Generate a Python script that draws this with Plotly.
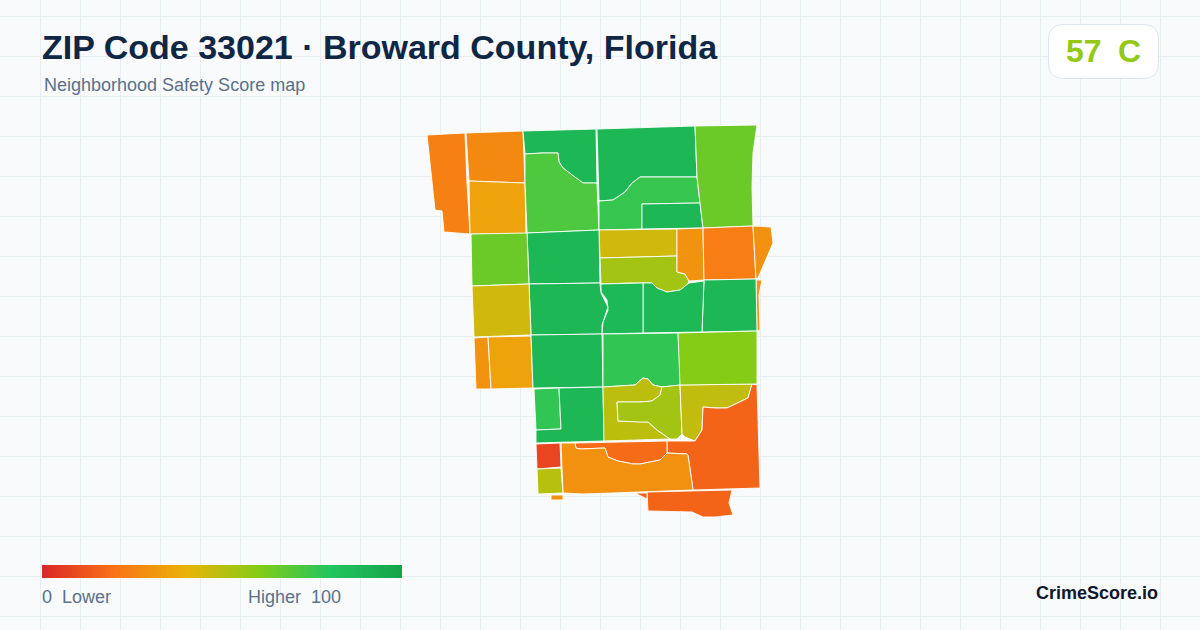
import plotly.graph_objects as go
from plotly.colors import sample_colorscale

W, H = 1200, 630
TITLE = "ZIP Code 33021 · Broward County, Florida"
SUBTITLE = "Neighborhood Safety Score map"
OVERALL_SCORE = 57
OVERALL_GRADE = "C"
BRAND = "CrimeScore.io"

SCALE_STOPS = [0, 20, 40, 60, 80, 100]
SCALE_COLORS = ["#dc2626", "#f97316", "#eab308", "#84cc16", "#22c55e", "#16a34a"]

TRACT_SCORES = [
    24, 27, 35, 88, 71, 88, 76, 88, 65, 45,
    54, 30, 23, 29, 30, 88, 87, 87, 88, 88,
    65, 45, 30, 35, 88, 77, 88, 77, 49, 54,
    48, 16, 18, 29, 8, 50, 29, 16, 16, 60,
]
TRACT_OUTLINES = [
    [(427,135),(465,133),(467,183),(470,234),(444,232),(442,211),(435,210)],
    [(466,133),(523,131),(525,183),(469,181)],
    [(469,181),(525,183),(526,234),(470,234)],
    [(523,131),(596,129),(597,183),(583,183),(577,179),(563,168),(559,162),(558,153),(542,153),(525,154)],
    [(525,154),(542,153),(558,153),(559,162),(563,168),(577,179),(583,183),(597,183),(599,230),(527,233),(525,183)],
    [(597,129),(695,126),(697,177),(658,177),(640,177),(632,183),(625,192),(613,200),(599,201)],
    [(599,201),(613,200),(625,192),(632,183),(640,177),(658,177),(697,177),(700,203),(642,204),(642,229),(599,230)],
    [(642,204),(700,203),(703,228),(642,229)],
    [(695,126),(757,125),(753,153),(752,187),(753,226),(703,228),(700,203),(697,177)],
    [(599,230),(677,229),(677,256),(600,258)],
    [(600,258),(677,256),(677,272),(685,274),(689,281),(687,286),(680,290),(667,292),(657,288),(652,283),(630,283),(601,284)],
    [(677,229),(703,228),(704,280),(689,281),(685,274),(677,272)],
    [(703,228),(753,226),(756,279),(704,280)],
    [(753,226),(771,227),(773,243),(758,278),(756,279)],
    [(756,280),(762,280),(759,295),(760,330),(757,331)],
    [(704,280),(756,279),(757,331),(702,332),(703,303)],
    [(643,283),(652,283),(657,288),(667,292),(680,290),(689,283),(704,281),(703,303),(702,332),(643,333)],
    [(601,284),(643,283),(643,333),(602,334),(603,322),(608,310),(607,300),(601,292)],
    [(527,233),(599,230),(600,283),(529,284)],
    [(529,284),(600,283),(601,293),(608,307),(602,325),(602,334),(531,335)],
    [(471,234),(527,233),(529,284),(472,286)],
    [(472,286),(529,284),(531,335),(474,337)],
    [(474,338),(488,337),(491,389),(476,389)],
    [(488,337),(531,336),(533,388),(491,389)],
    [(531,335),(602,334),(603,387),(533,388)],
    [(534,389),(559,388),(561,429),(536,430)],
    [(559,388),(603,387),(604,441),(536,443),(536,430),(561,429)],
    [(603,334),(678,333),(681,385),(662,387),(653,385),(648,379),(643,378),(635,385),(603,387)],
    [(603,387),(635,385),(643,378),(648,379),(653,385),(662,387),(660,395),(652,401),(640,402),(617,402),(618,421),(648,422),(657,430),(670,439),(604,441)],
    [(662,387),(680,385),(682,434),(677,439),(670,439),(657,430),(648,422),(640,422),(618,421),(617,402),(640,402),(652,401),(660,395)],
    [(680,385),(752,384),(748,398),(740,402),(727,408),(715,408),(703,407),(702,430),(695,441),(685,437),(682,434)],
    [(752,384),(757,385),(760,488),(693,490),(688,455),(687,454),(667,453),(667,441),(695,441),(702,430),(703,407),(715,408),(727,408),(740,402),(748,398)],
    [(575,443),(667,441),(667,453),(660,460),(640,464),(633,464),(618,461),(608,457),(605,448),(580,449),(576,448)],
    [(561,443),(575,443),(576,448),(580,449),(605,448),(608,457),(618,461),(633,464),(640,464),(660,460),(667,453),(687,454),(688,455),(693,490),(612,493),(583,494),(563,493)],
    [(536,444),(560,443),(561,467),(537,469)],
    [(537,469),(561,468),(563,493),(538,494)],
    [(551,495),(563,495),(563,500),(551,500)],
    [(647,492),(732,490),(729,503),(733,515),(715,517),(703,517),(692,512),(648,511)],
    [(635,493),(647,493),(647,499)],
    [(678,333),(757,331),(757,384),(680,385)],
]

FONT = "Liberation Sans, Arial, sans-serif"
MUTED = "#5b7089"
GRID = "#e7eef2"
BG = "#f8fafc"

scale = [[s / 100, c] for s, c in zip(SCALE_STOPS, SCALE_COLORS)]


def score_color(v):
    return sample_colorscale(scale, v / 100, colortype="rgb")[0]


def py(y):
    return 1 - y / H


HEADER = 96
fig = go.Figure()

for score, outline in zip(TRACT_SCORES, TRACT_OUTLINES):
    xs = [p[0] for p in outline] + [outline[0][0]]
    ys = [p[1] for p in outline] + [outline[0][1]]
    fig.add_trace(go.Scatter(
        x=xs, y=ys, mode="lines", fill="toself",
        fillcolor=score_color(score),
        line=dict(color="#ffffff", width=0.9),
        hoverinfo="text", text=f"Safety score {score}", showlegend=False,
    ))

fig.add_trace(go.Heatmap(
    x=SCALE_STOPS, y=[0, 1], z=[SCALE_STOPS, SCALE_STOPS],
    colorscale=scale, zmin=0, zmax=100, zsmooth="best",
    showscale=False, hoverinfo="skip", xaxis="x2", yaxis="y2",
))


def label(x, y, text, size, color, xanchor="left", bold=False):
    fig.add_annotation(
        x=x / W, y=py(y), xref="paper", yref="paper", text=f"<b>{text}</b>" if bold else text,
        showarrow=False, xanchor=xanchor, yanchor="middle", xshift=0, yshift=0,
        font=dict(family=FONT, size=size, color=color), borderpad=0, borderwidth=0,
    )


label(42, 47, TITLE, 34, "#0f2744", bold=True)
label(44, 85, SUBTITLE, 18, MUTED)
label(1066, 51, str(OVERALL_SCORE), 32, score_color(OVERALL_SCORE), bold=True)
label(1118, 51, OVERALL_GRADE, 32, score_color(OVERALL_SCORE), bold=True)
label(42, 597, f"{SCALE_STOPS[0]}\u00a0\u00a0Lower", 18, MUTED)
label(341, 597, f"Higher\u00a0\u00a0{SCALE_STOPS[-1]}", 18, MUTED, xanchor="right")
label(1158, 593, BRAND, 18, "#0f172a", xanchor="right", bold=True)

# rounded score badge
x0, x1, y0, y1, r = 1048.5, 1158.5, 24.5, 78.5, 15
badge = (
    f"M {x0+r} {y0} L {x1-r} {y0} Q {x1} {y0} {x1} {y0+r} L {x1} {y1-r} Q {x1} {y1} {x1-r} {y1} "
    f"L {x0+r} {y1} Q {x0} {y1} {x0} {y1-r} L {x0} {y0+r} Q {x0} {y0} {x0+r} {y0} Z"
)
fig.add_shape(type="path", path=badge, xref="x", yref="y", fillcolor="#ffffff",
              line=dict(color="#dfe5ec", width=1), layer="above")

fig.update_layout(
    width=W, height=H, margin=dict(l=0, r=0, t=0, b=0),
    paper_bgcolor=BG, plot_bgcolor=BG, showlegend=False, hovermode="closest",
    xaxis=dict(domain=[0, 1], range=[0, W], showgrid=True, gridcolor=GRID, gridwidth=1,
               tick0=0.5, dtick=40, zeroline=False, showticklabels=False, ticks="", showline=False, fixedrange=True),
    yaxis=dict(domain=[0, 1], range=[H, 0], showgrid=True, gridcolor=GRID, gridwidth=1,
               tick0=16.5, dtick=40, zeroline=False, showticklabels=False, ticks="", showline=False, fixedrange=True),
    xaxis2=dict(domain=[42 / W, 402 / W], range=[0, 100], visible=False, anchor="y2", fixedrange=True),
    yaxis2=dict(domain=[py(578), py(565)], range=[0, 1], visible=False, anchor="x2", fixedrange=True),
)
# header band hides the grid above the map area
fig.add_shape(type="rect", xref="paper", yref="paper", x0=0, x1=1, y0=py(HEADER), y1=1,
              fillcolor=BG, line_width=0, layer="between")

fig.write_html("out.html", config={"displayModeBar": False},
               post_script="document.body.style.margin='0';document.documentElement.style.overflow='hidden';")
